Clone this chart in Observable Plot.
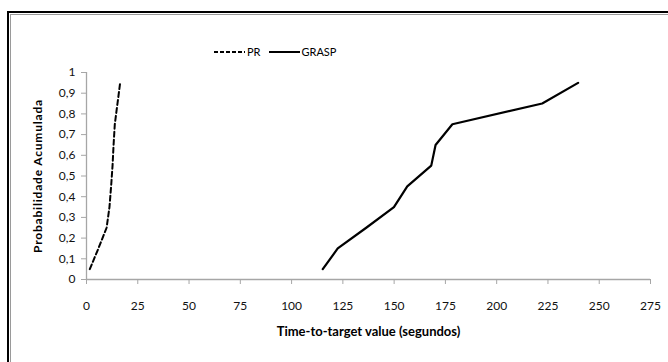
<!DOCTYPE html>
<html>
<head>
<meta charset="utf-8">
<script src="https://cdn.jsdelivr.net/npm/d3@7"></script>
<script src="https://cdn.jsdelivr.net/npm/@observablehq/plot@0.6"></script>
<style>
  html, body { margin: 0; padding: 0; background: #fff; }
  #wrap { position: relative; width: 668px; height: 362px; overflow: hidden; font-family: Lato, "Open Sans", sans-serif; background: #fff; }
  #wrap svg.chart { position: absolute; left: 0; top: 0; }
  .f1 { position: absolute; left: 7px; top: 11px; width: 900px; height: 700px; border-left: 2px solid #000; border-top: 2px solid #000; }
  .f2 { position: absolute; left: 10px; top: 14px; width: 900px; height: 700px; border-left: 1px solid #9a9a9a; border-top: 1px solid #9a9a9a; }
  #legend { position: absolute; top: 45px; left: 214px; display: flex; align-items: center; font-size: 11px; color: #000; white-space: nowrap; }
  #legend svg { display: block; }
</style>
</head>
<body>
<div id="wrap">
  <div class="f1"></div>
  <div class="f2"></div>
  <div id="legend"></div>
</div>
<script>
// Data
const probabilities = [0.05, 0.15, 0.25, 0.35, 0.45, 0.55, 0.65, 0.75, 0.85, 0.95];
const prTimes = [1.6, 5.8, 9.8, 11.2, 12.0, 12.7, 13.2, 13.8, 15.1, 16.4];
const graspTimes = [115.2, 122.5, 136.4, 149.9, 156.4, 168.1, 170.2, 178.4, 222.2, 239.7];
const seriesNames = ["PR", "GRASP"];
const xTicks = [0, 25, 50, 75, 100, 125, 150, 175, 200, 225, 250, 275];
const yTicks = [0, 0.1, 0.2, 0.3, 0.4, 0.5, 0.6, 0.7, 0.8, 0.9, 1];
const xTitle = "Time-to-target value (segundos)";
const yTitle = "Probabilidade Acumulada";

const prData = probabilities.map((p, i) => ({t: prTimes[i], p}));
const graspData = probabilities.map((p, i) => ({t: graspTimes[i], p}));

const fmtY = d => d === 0 ? "0" : d === 1 ? "1" : d.toFixed(1).replace(".", ",");

const chart = Plot.plot({
  width: 668,
  height: 362,
  marginLeft: 86,
  marginRight: 18,
  marginTop: 72,
  marginBottom: 83,
  style: {fontFamily: "Lato, 'Open Sans', sans-serif", fontSize: "12px", background: "transparent", color: "#000"},
  x: {domain: [0, 275]},
  y: {domain: [0, 1]},
  marks: [
    Plot.ruleY([0], {stroke: "#a6a6a6", strokeWidth: 1.3}),
    Plot.ruleX([0], {stroke: "#a6a6a6", strokeWidth: 1.3}),
    Plot.axisX({ticks: xTicks, tickSize: 5, tickPadding: 17, stroke: "#a6a6a6", fill: "#111", label: null, fontSize: 12}),
    Plot.axisY({ticks: yTicks, tickSize: 5, tickPadding: 6, stroke: "#a6a6a6", fill: "#111", label: null, tickFormat: fmtY, fontSize: 12}),
    Plot.line(prData, {x: "t", y: "p", stroke: "#000", strokeWidth: 2, strokeDasharray: "5,3"}),
    Plot.line(graspData, {x: "t", y: "p", stroke: "#000", strokeWidth: 2.2}),
    Plot.text([xTitle], {text: d => d, frameAnchor: "bottom", dy: 56, fontWeight: "bold", fontSize: 13, fill: "#000"}),
    Plot.text([yTitle], {text: d => d, frameAnchor: "left", textAnchor: "middle", dx: -48, rotate: -90, fontWeight: "bold", fontSize: 12, fill: "#000"})
  ]
});
chart.classList.add("chart");
d3.select(chart).selectAll("text").filter(function() { return this.textContent === yTitle; })
  .style("letter-spacing", "0.8px");
document.getElementById("wrap").appendChild(chart);

// Legend
const legend = d3.select("#legend");
function swatch(dash) {
  const s = legend.append("svg").attr("width", 32).attr("height", 8);
  s.append("line").attr("x1", 0).attr("x2", 31).attr("y1", 4).attr("y2", 4)
    .attr("stroke", "#000").attr("stroke-width", 2).attr("stroke-dasharray", dash);
}
swatch("4,2");
legend.append("span").text(seriesNames[0]).style("margin-left", "1px").style("margin-right", "8px");
swatch(null);
legend.append("span").text(seriesNames[1]).style("margin-left", "1px");
</script>
</body>
</html>
